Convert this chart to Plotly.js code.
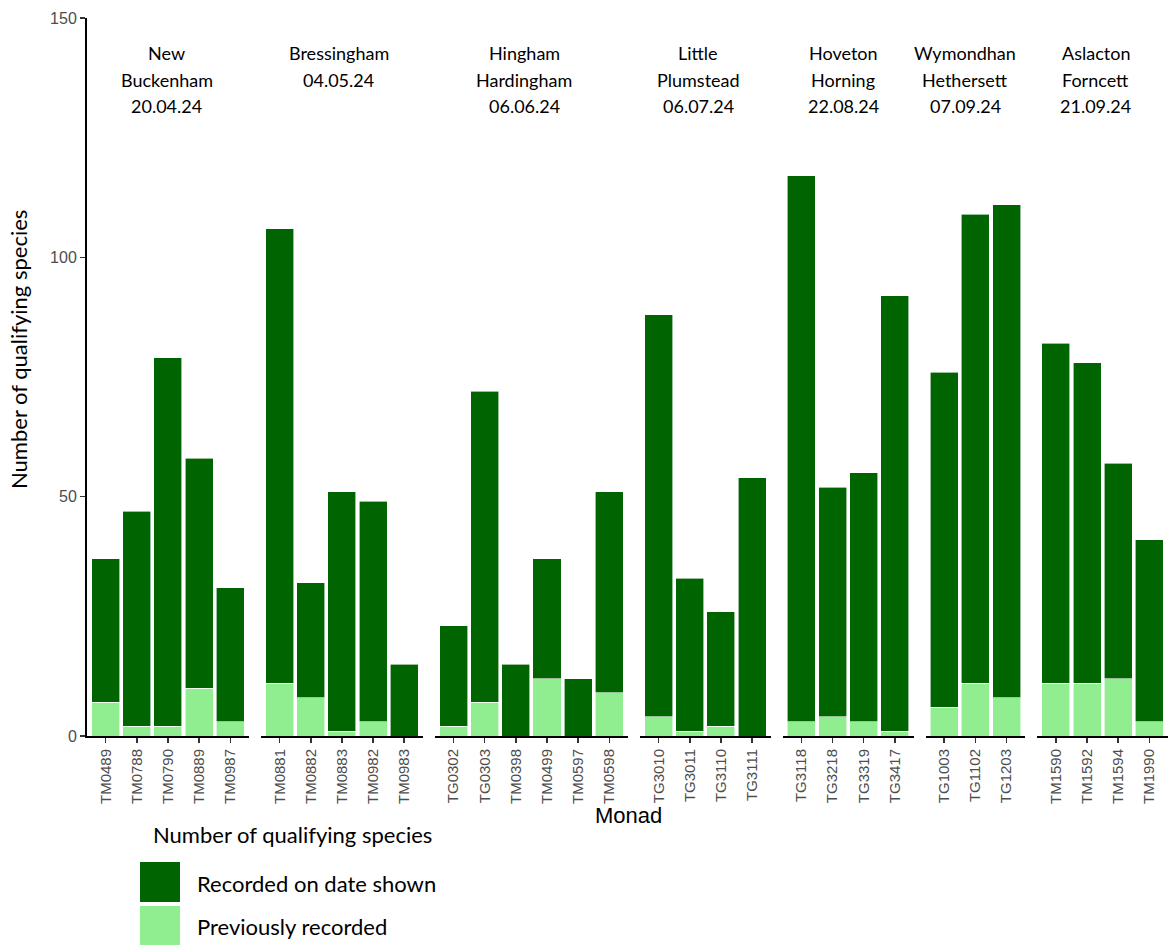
<!DOCTYPE html>
<html>
<head>
<meta charset="utf-8">
<script src="https://cdn.plot.ly/plotly-3.0.1.min.js"></script>
<style>
  html, body { margin: 0; padding: 0; background: #ffffff; }
  #chart { width: 1168px; height: 945px; }
</style>
</head>
<body>
<div id="chart"></div>
<script>
// Survey visits: one facet per visit, one bar per monad visited
const visitPlaces = [
  ["New", "Buckenham"],
  ["Bressingham"],
  ["Hingham", "Hardingham"],
  ["Little", "Plumstead"],
  ["Hoveton", "Horning"],
  ["Wymondhan", "Hethersett"],
  ["Aslacton", "Forncett"]
];
const visitDates = ["20.04.24", "04.05.24", "06.06.24", "06.07.24", "22.08.24", "07.09.24", "21.09.24"];

const monads = [
  ["TM0489", "TM0788", "TM0790", "TM0889", "TM0987"],
  ["TM0881", "TM0882", "TM0883", "TM0982", "TM0983"],
  ["TG0302", "TG0303", "TM0398", "TM0499", "TM0597", "TM0598"],
  ["TG3010", "TG3011", "TG3110", "TG3111"],
  ["TG3118", "TG3218", "TG3319", "TG3417"],
  ["TG1003", "TG1102", "TG1203"],
  ["TM1590", "TM1592", "TM1594", "TM1990"]
];

// Qualifying species already on record for the monad before the visit
const previouslyRecorded = [
  [7, 2, 2, 10, 3],
  [11, 8, 1, 3, 0],
  [2, 7, 0, 12, 0, 9],
  [4, 1, 2, 0],
  [3, 4, 3, 1],
  [6, 11, 8],
  [11, 11, 12, 3]
];

// Qualifying species newly recorded on the visit date
const recordedOnDate = [
  [30, 45, 77, 48, 28],
  [95, 24, 50, 46, 15],
  [21, 65, 15, 25, 12, 42],
  [84, 32, 24, 54],
  [114, 48, 52, 91],
  [70, 98, 103],
  [71, 67, 45, 38]
];

const seriesNames = ["Previously recorded", "Recorded on date shown"];
const yTicks = [0, 50, 100, 150];

// ---- layout geometry (pixels) ----
const W = 1168, H = 945;
const M = { l: 87, r: 0, t: 18, b: 209 };
const plotW = W - M.l - M.r, plotH = H - M.t - M.b;
const panelGap = 12;
const pad = 0.6; // discrete axis expansion on each side
const totalUnits = monads.reduce((s, m) => s + m.length - 1 + 2 * pad, 0);
const unitPx = (plotW - panelGap * (monads.length - 1)) / totalUnits;
const px2x = p => (p - M.l) / plotW;
const px2y = p => (H - M.b - p) / plotH;

const COL_NEW = "#006400";
const COL_PREV = "#90EE90";
const TICK_FONT = { family: "Liberation Sans, Arial, sans-serif", size: 15, color: "#4d4d4d" };
const TEXT_FONT = "Lato, Carlito, Calibri, sans-serif";

const traces = [];
const layout = {
  width: W, height: H,
  margin: M,
  paper_bgcolor: "#ffffff",
  plot_bgcolor: "#ffffff",
  barmode: "stack",
  showlegend: false,
  bargap: 0.1,
  yaxis: {
    range: [0, 150],
    tickvals: yTicks,
    ticktext: yTicks.map(String),
    ticks: "outside", ticklen: 5, tickwidth: 1.5, tickcolor: "#333333",
    tickfont: { family: TICK_FONT.family, size: 16, color: "#4d4d4d" },
    showgrid: false, zeroline: false,
    showline: true, linecolor: "#000000", linewidth: 2,
    fixedrange: true
  },
  annotations: [],
  shapes: []
};

// Facet label horizontal nudges (pixels)
const labelShift = [-1, -3, -7, -7, -5, -10, -7];

let startPx = M.l;
monads.forEach((cats, i) => {
  const n = cats.length;
  const widthPx = (n - 1 + 2 * pad) * unitPx;
  const ax = i === 0 ? "xaxis" : "xaxis" + (i + 1);
  const ref = i === 0 ? "x" : "x" + (i + 1);
  layout[ax] = {
    domain: [px2x(startPx), px2x(startPx + widthPx)],
    anchor: "y",
    type: "category",
    categoryorder: "array",
    categoryarray: cats,
    range: [-pad, n - 1 + pad],
    tickangle: -90,
    ticks: "outside", ticklen: 5, tickwidth: 1.5, tickcolor: "#333333",
    tickfont: TICK_FONT,
    showgrid: false, zeroline: false,
    showline: true, linecolor: "#000000", linewidth: 2,
    fixedrange: true
  };

  traces.push({
    type: "bar", name: seriesNames[0],
    x: cats, y: previouslyRecorded[i],
    xaxis: ref, yaxis: "y", width: 0.9,
    marker: { color: COL_PREV, line: { color: "#ffffff", width: 0.6 } },
    hoverinfo: "x+y+name"
  });
  traces.push({
    type: "bar", name: seriesNames[1],
    x: cats, y: recordedOnDate[i],
    xaxis: ref, yaxis: "y", width: 0.9,
    marker: { color: COL_NEW, line: { color: "#ffffff", width: 0.6 } },
    hoverinfo: "x+y+name"
  });

  // facet heading: place name lines, then the visit date
  const lines = visitPlaces[i].concat([visitDates[i]]);
  const centerPx = startPx + widthPx / 2 + labelShift[i];
  lines.forEach((line, k) => {
    layout.annotations.push({
      xref: "paper", yref: "paper",
      x: px2x(centerPx), y: px2y(53 + 26.5 * k),
      xanchor: "center", yanchor: "middle",
      text: line, showarrow: false,
      font: { family: TEXT_FONT, size: 18, color: "#000000" }
    });
  });

  startPx += widthPx + panelGap;
});

// Axis titles
layout.annotations.push({
  xref: "paper", yref: "paper",
  x: px2x(628), y: px2y(815), xanchor: "center", yanchor: "middle",
  text: "Monad", showarrow: false,
  font: { family: "Liberation Sans, Arial, sans-serif", size: 22, color: "#000000" }
});
layout.annotations.push({
  xref: "paper", yref: "paper",
  x: px2x(18), y: px2y(350), xanchor: "center", yanchor: "middle",
  text: "Number of qualifying species", textangle: -90, showarrow: false,
  font: { family: TEXT_FONT, size: 22, color: "#000000" }
});

// Legend below the panels
layout.annotations.push({
  xref: "paper", yref: "paper",
  x: px2x(151), y: px2y(835), xanchor: "left", yanchor: "middle",
  text: "Number of qualifying species", showarrow: false,
  font: { family: TEXT_FONT, size: 22, color: "#000000" }
});
const legendKeys = [
  { name: seriesNames[1], color: COL_NEW, top: 862, bottom: 902, textY: 883 },
  { name: seriesNames[0], color: COL_PREV, top: 906, bottom: 945, textY: 926 }
];
legendKeys.forEach(k => {
  layout.shapes.push({
    type: "rect", xref: "paper", yref: "paper",
    x0: px2x(140), x1: px2x(180), y0: px2y(k.bottom), y1: px2y(k.top),
    fillcolor: k.color, line: { width: 0 }
  });
  layout.annotations.push({
    xref: "paper", yref: "paper",
    x: px2x(195), y: px2y(k.textY), xanchor: "left", yanchor: "middle",
    text: k.name, showarrow: false,
    font: { family: TEXT_FONT, size: 22, color: "#000000" }
  });
});

Plotly.newPlot("chart", traces, layout, { displayModeBar: false, staticPlot: true });
</script>
</body>
</html>
